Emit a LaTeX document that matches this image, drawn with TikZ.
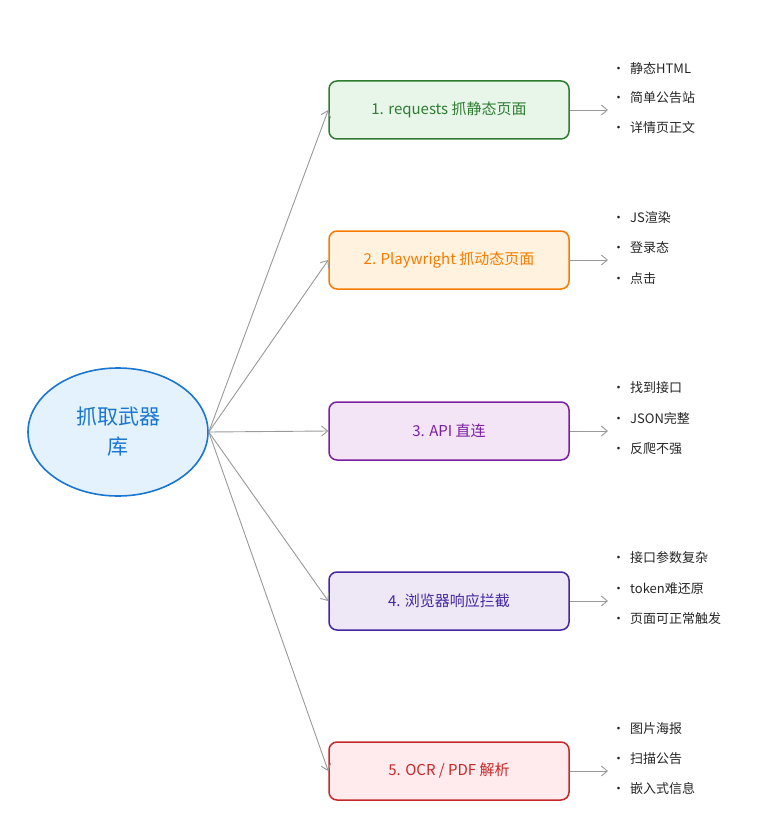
\documentclass[tikz,border=0pt]{standalone}
\usepackage{fontspec}
\setmainfont{Noto Sans CJK SC}
\usetikzlibrary{shapes.geometric,arrows.meta}
\definecolor{cg}{HTML}{2E7D32}\definecolor{fg}{HTML}{E8F5E9}
\definecolor{co}{HTML}{F57C00}\definecolor{fo}{HTML}{FFF3E0}
\definecolor{cp}{HTML}{7B1FA2}\definecolor{fp}{HTML}{F3E5F5}
\definecolor{ci}{HTML}{4527A0}\definecolor{fi}{HTML}{EDE7F6}
\definecolor{cr}{HTML}{C62828}\definecolor{fr}{HTML}{FFEBEE}
\definecolor{cb}{HTML}{1976D2}\definecolor{fb}{HTML}{E3F2FD}
\begin{document}
\begin{tikzpicture}[x=1pt,y=-1pt,
 box/.style={draw=#1,text=#1,line width=1.5pt,rounded corners=8pt,minimum width=240pt,minimum height=58pt,inner sep=0pt,font=\fontsize{15}{18}\selectfont},
 arr/.style={draw=gray!80,line width=0.9pt,-{Straight Barb[length=6pt,width=10pt]}},
 item/.style={anchor=west,font=\fontsize{13}{16}\selectfont,text=black!85,inner sep=0pt}]
\useasboundingbox (0,0) rectangle (773,821);
\node[ellipse,draw=cb,fill=fb,line width=1.6pt,minimum width=180pt,minimum height=128pt,text=cb,align=center,font=\fontsize{21}{30}\selectfont] (root) at (118,432) {抓取武器\\库};
\node[box=cg,fill=fg] (b1) at (449,110) {1. requests 抓静态页面};
\node[box=co,fill=fo] (b2) at (449,260) {2. Playwright 抓动态页面};
\node[box=cp,fill=fp] (b3) at (449,431) {3. API 直连};
\node[box=ci,fill=fi] (b4) at (449,601) {4. 浏览器响应拦截};
\node[box=cr,fill=fr] (b5) at (449,771) {5. OCR / PDF 解析};
\foreach \i in {1,...,5}{\draw[arr] (root.east) -- (b\i.west);}
\foreach \i/\y in {1/110,2/260,3/431,4/601,5/771}{
 \coordinate (e\i) at (608,\y);
 \draw[arr] (b\i.east) -- (e\i);}
\foreach \y/\t [count=\k] in {69/静态HTML,98/简单公告站,128/详情页正文,218/JS渲染,248/登录态,279/点击/滚动加载,388/找到接口,419/JSON完整,449/反爬不强,558/接口参数复杂,589/token难还原,619/页面可正常触发,729/图片海报,759/扫描公告,789/嵌入式信息}{
 \node[item] (t\k) at (612,\y) {•\hspace{5pt}\t};}
\end{tikzpicture}
\end{document}
